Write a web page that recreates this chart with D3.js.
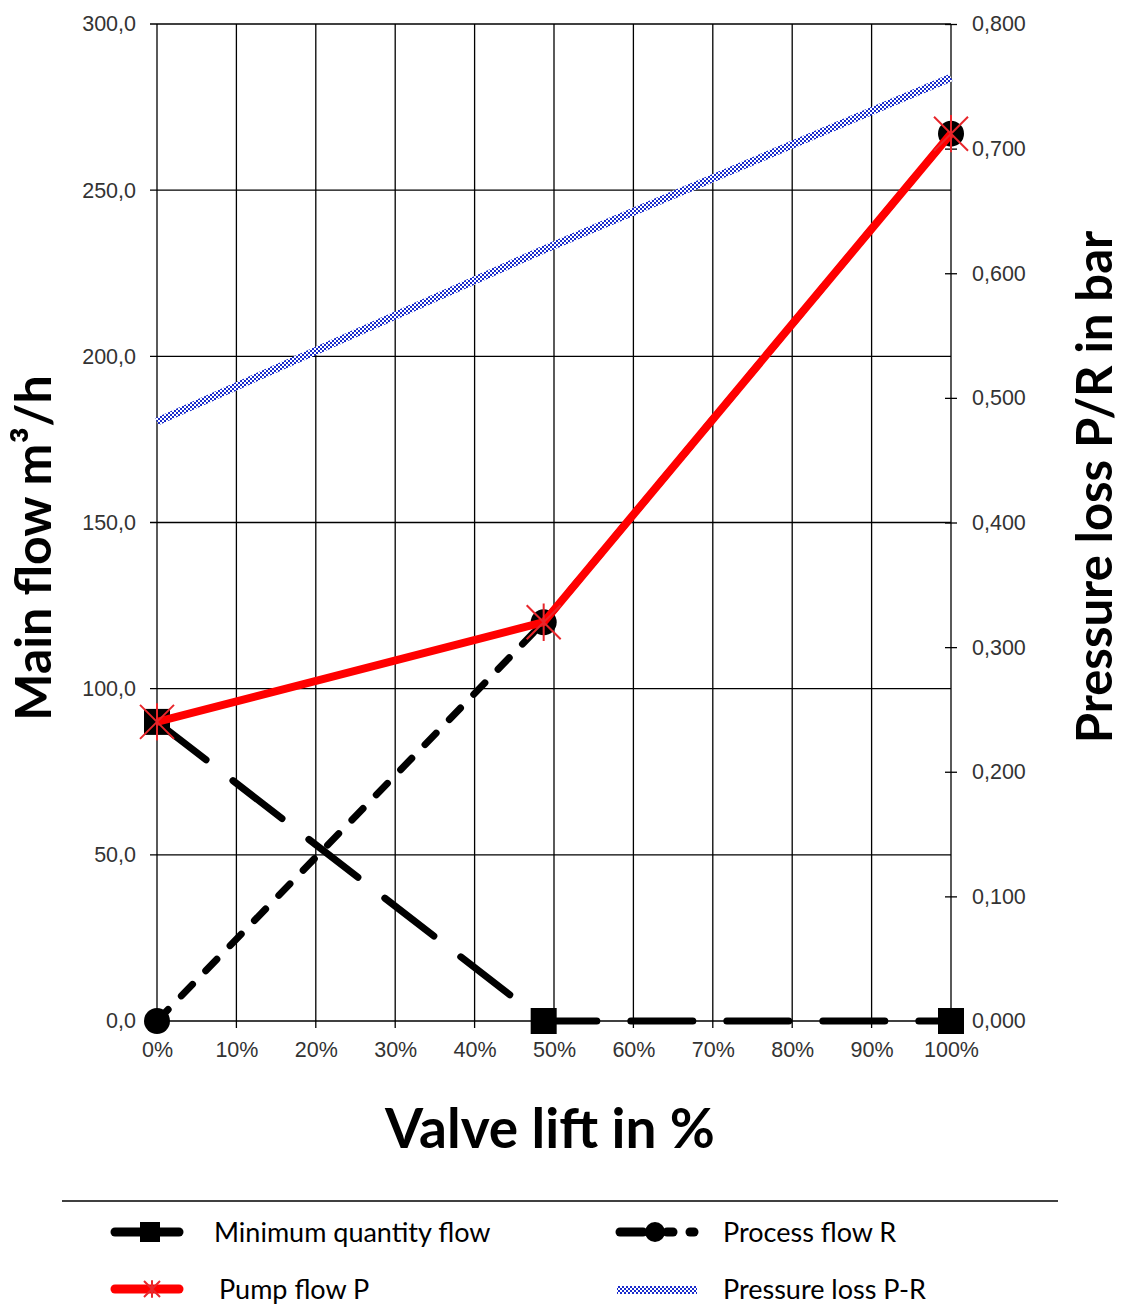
<!DOCTYPE html>
<html>
<head>
<meta charset="utf-8">
<script src="https://cdn.jsdelivr.net/npm/d3@7"></script>
<style>
body { margin: 0; background: #fff; }
svg { display: block; }
.tick text { font-family: "Liberation Sans", Arial, sans-serif; font-size: 21.5px; fill: #333; }
.title { font-family: Lato, "Open Sans", sans-serif; font-weight: bold; fill: #000; }
.leg { font-family: Lato, "Open Sans", sans-serif; font-size: 27px; fill: #000; }
</style>
</head>
<body>
<svg id="chart" width="1121" height="1315"></svg>
<script>
// valve lift positions (%) of the data points
const lift = [0, 48.7, 100]
const minFlow = [90, 0, 0]
const processFlow = [0, 120, 267]
const pumpFlow = [90, 120, 267]
const pressureLoss = [0.481, 0.619, 0.757]
const xTicks = [0, 10, 20, 30, 40, 50, 60, 70, 80, 90, 100]
const yTicks = [0, 50, 100, 150, 200, 250, 300]
const y2Ticks = [0, 0.1, 0.2, 0.3, 0.4, 0.5, 0.6, 0.7, 0.8]
const legendNames = ['Minimum quantity flow', 'Process flow R', 'Pump flow P', 'Pressure loss P-R']

const svg = d3.select('#chart')
const m = { left: 157, right: 951, top: 24, bottom: 1021 }
const x = d3.scaleLinear().domain([0, 100]).range([m.left, m.right])
const y = d3.scaleLinear().domain([0, 300]).range([m.bottom, m.top])
const y2 = d3.scaleLinear().domain([0, 0.8]).range([m.bottom, m.top])
const comma = (d, n) => d3.format('.' + n + 'f')(d).replace('.', ',')

// checkered stroke for the pressure line
const pat = svg.append('defs').append('pattern').attr('id', 'check')
  .attr('patternUnits', 'userSpaceOnUse').attr('width', 4).attr('height', 4)
pat.append('rect').attr('width', 4).attr('height', 4).attr('fill', '#fff')
pat.append('rect').attr('width', 2).attr('height', 2).attr('fill', '#1a2ccc')
pat.append('rect').attr('x', 2).attr('y', 2).attr('width', 2).attr('height', 2).attr('fill', '#1a2ccc')

// grid
svg.append('g').selectAll('line').data(yTicks).enter().append('line')
  .attr('x1', m.left - 7).attr('x2', m.right).attr('y1', d => y(d)).attr('y2', d => y(d))
  .attr('stroke', '#000').attr('stroke-width', 1.3)
svg.append('g').selectAll('line').data(xTicks).enter().append('line')
  .attr('x1', d => x(d)).attr('x2', d => x(d)).attr('y1', m.top).attr('y2', m.bottom + 7)
  .attr('stroke', '#000').attr('stroke-width', 1.3)

// axes
const ax = svg.append('g').attr('transform', `translate(0,${m.bottom})`)
  .call(d3.axisBottom(x).tickValues(xTicks).tickFormat(d => d + '%').tickSize(0).tickPadding(21))
ax.select('.domain').remove()
const ayl = svg.append('g').attr('transform', `translate(${m.left},0)`)
  .call(d3.axisLeft(y).tickValues(yTicks).tickFormat(d => comma(d, 1)).tickSize(0).tickPadding(21))
ayl.select('.domain').remove()
const ayr = svg.append('g').attr('transform', `translate(${m.right},0)`)
  .call(d3.axisRight(y2).tickValues(y2Ticks).tickFormat(d => comma(d, 3)).tickSize(6).tickPadding(15))
ayr.select('.domain').remove()
ayr.selectAll('.tick line').attr('x1', -6).attr('stroke-width', 1.3)

const line = (vals, sc) => d3.line().x((d, i) => x(lift[i])).y(d => sc(d))(vals)

// pressure loss
svg.append('path').attr('d', line(pressureLoss, y2)).attr('fill', 'none')
  .attr('stroke', 'url(#check)').attr('stroke-width', 8)

// minimum quantity flow
svg.append('path').attr('d', line(minFlow, y)).attr('fill', 'none')
  .attr('stroke', '#000').attr('stroke-width', 7).attr('stroke-linecap', 'round')
  .attr('stroke-dasharray', '62,34')
svg.append('g').selectAll('rect').data(minFlow).enter().append('rect')
  .attr('x', (d, i) => x(lift[i]) - 13).attr('y', d => y(d) - 13)
  .attr('width', 26).attr('height', 26).attr('fill', '#000')

// process flow
svg.append('path').attr('d', line(processFlow, y)).attr('fill', 'none')
  .attr('stroke', '#000').attr('stroke-width', 7).attr('stroke-linecap', 'round')
  .attr('stroke-dasharray', '16,19')
svg.append('g').selectAll('circle').data(processFlow).enter().append('circle')
  .attr('cx', (d, i) => x(lift[i])).attr('cy', d => y(d)).attr('r', 13).attr('fill', '#000')

// pump flow
svg.append('path').attr('d', line(pumpFlow, y)).attr('fill', 'none')
  .attr('stroke', '#ff0000').attr('stroke-width', 8).attr('stroke-linejoin', 'round')
const star = (g, cx, cy, r) => {
  const p = `M${cx - r},${cy - r}L${cx + r},${cy + r}M${cx - r},${cy + r}L${cx + r},${cy - r}M${cx},${cy - r * 1.1}L${cx},${cy + r * 1.1}`
  g.append('path').attr('d', p).attr('stroke', '#e8262b').attr('stroke-width', 2).attr('fill', 'none')
}
const sg = svg.append('g')
pumpFlow.forEach((d, i) => star(sg, x(lift[i]), y(d), 17))

// titles
svg.append('text').attr('class', 'title').attr('font-size', 55)
  .attr('x', 550).attr('y', 1148).attr('text-anchor', 'middle').text('Valve lift in %')
svg.append('text').attr('class', 'title').attr('font-size', 50)
  .attr('transform', 'translate(51,548) rotate(-90)').attr('text-anchor', 'middle').text('Main flow m³/h')
svg.append('text').attr('class', 'title').attr('font-size', 49)
  .attr('transform', 'translate(1112,487) rotate(-90)').attr('text-anchor', 'middle').text('Pressure loss P/R in bar')

// legend
svg.append('line').attr('x1', 62).attr('x2', 1058).attr('y1', 1201).attr('y2', 1201)
  .attr('stroke', '#000').attr('stroke-width', 1.5)
const lg = svg.append('g')
const cols = [112, 617], rows = [1232, 1289]
// minimum quantity flow
lg.append('line').attr('x1', cols[0] + 3).attr('x2', cols[0] + 67).attr('y1', rows[0]).attr('y2', rows[0])
  .attr('stroke', '#000').attr('stroke-width', 9).attr('stroke-linecap', 'round')
lg.append('rect').attr('x', cols[0] + 28).attr('y', rows[0] - 10).attr('width', 20).attr('height', 20).attr('fill', '#000')
// process flow
lg.append('line').attr('x1', cols[1] + 3).attr('x2', cols[1] + 26).attr('y1', rows[0]).attr('y2', rows[0])
  .attr('stroke', '#000').attr('stroke-width', 9).attr('stroke-linecap', 'round')
lg.append('circle').attr('cx', cols[1] + 38).attr('cy', rows[0]).attr('r', 10).attr('fill', '#000')
lg.append('line').attr('x1', cols[1] + 50).attr('x2', cols[1] + 56).attr('y1', rows[0]).attr('y2', rows[0])
  .attr('stroke', '#000').attr('stroke-width', 9).attr('stroke-linecap', 'round')
lg.append('line').attr('x1', cols[1] + 73).attr('x2', cols[1] + 77).attr('y1', rows[0]).attr('y2', rows[0])
  .attr('stroke', '#000').attr('stroke-width', 9).attr('stroke-linecap', 'round')
// pump flow
lg.append('line').attr('x1', cols[0] + 3).attr('x2', cols[0] + 67).attr('y1', rows[1]).attr('y2', rows[1])
  .attr('stroke', '#ff0000').attr('stroke-width', 9).attr('stroke-linecap', 'round')
star(lg, cols[0] + 40, rows[1], 8)
// pressure loss
lg.append('line').attr('x1', cols[1]).attr('x2', cols[1] + 80).attr('y1', rows[1] + 1).attr('y2', rows[1] + 1)
  .attr('stroke', 'url(#check)').attr('stroke-width', 8)
lg.selectAll('text.leg').data(legendNames).enter().append('text').attr('class', 'leg')
  .attr('x', (d, i) => i % 2 ? 723 : (i ? 219 : 214))
  .attr('y', (d, i) => (i < 2 ? rows[0] : rows[1]) + 10)
  .text(d => d)
</script>
</body>
</html>
